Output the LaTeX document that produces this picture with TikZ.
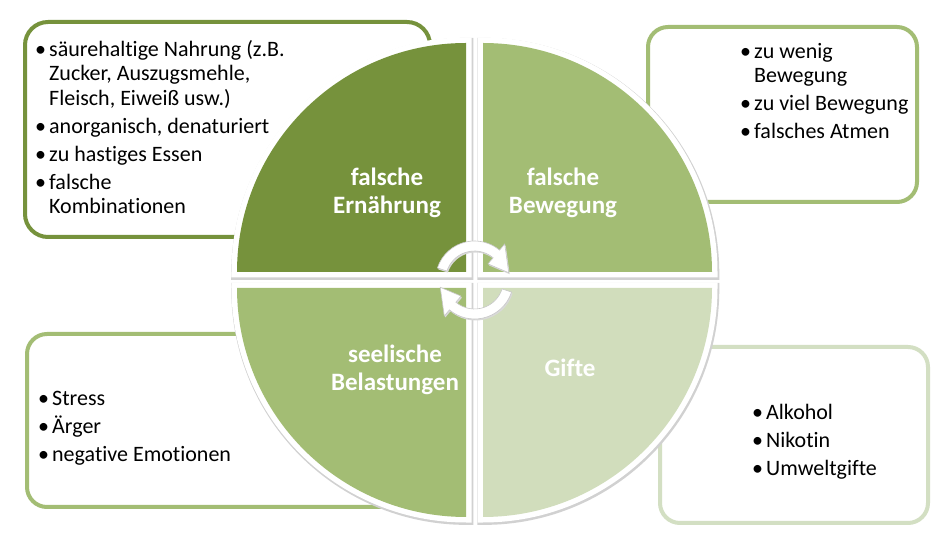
\documentclass[tikz,border=0pt]{standalone}
\usepackage{fontspec}
\setmainfont{Carlito}[Ligatures=NoCommon]
\definecolor{darkolive}{HTML}{76923C}
\definecolor{midgreen}{HTML}{A3BD74}
\definecolor{lightgreen}{HTML}{D1DDBC}
\definecolor{lightborder}{HTML}{D3DFC3}
\newcommand\bul{\rule{0pt}{17pt}\makebox[14pt][l]{•}}
\newcommand\ind{\rule{0pt}{17pt}\hspace*{14pt}}
\newcommand\lstrut{\rule{0pt}{18pt}}
\tikzset{
  infobox/.style={fill=white, line width=4pt, rounded corners=23pt},
  listtext/.style={anchor=north west, inner sep=0pt, align=left, font=\fontsize{22}{24.5}\selectfont},
  quadlabel/.style={anchor=north, inner sep=0pt, align=center, text=white, font=\bfseries\fontsize{25}{28}\selectfont},
  quadshadow/.style={draw=black!18, line width=13pt, line join=miter},
  quadbase/.style={draw=white, fill=white, line width=11pt, line join=miter},
  qTL/.style={insert path={(466,263) -- (237,263) arc[start angle=180, end angle=90, radius=229pt] -- cycle}},
  qTR/.style={insert path={(483,263) -- (483,492) arc[start angle=90, end angle=0, radius=229pt] -- cycle}},
  qBL/.style={insert path={(466,247) -- (466,18) arc[start angle=270, end angle=180, radius=229pt] -- cycle}},
  qBR/.style={insert path={(483,247) -- (712,247) arc[start angle=0, end angle=-90, radius=229pt] -- cycle}},
  cyclearrow/.style={insert path={(162:39pt) arc[start angle=162, end angle=50, radius=39pt] -- (50:47pt) -- (12:35pt) -- (50:21pt) -- (50:29pt) arc[start angle=50, end angle=162, radius=29pt] -- cycle}},
}
\begin{document}
\begin{tikzpicture}[x=1pt, y=1pt]
\useasboundingbox (0,0) rectangle (943,535);
\fill[white] (0,0) rectangle (943,535);

% boxes
\draw[infobox, draw=darkolive] (25,298) rectangle (430,513);
\draw[infobox, draw=midgreen, rounded corners=20pt] (648,333) rectangle (917,508);
\draw[infobox, draw=midgreen, rounded corners=20pt] (27,28) rectangle (400,201);
\draw[infobox, draw=lightborder, rounded corners=20pt] (660,12) rectangle (928,188);

% quadrants
\path[quadshadow, shift={(0.8,-1.4)}, qTL];
\path[quadshadow, shift={(0.8,-1.4)}, qTR];
\path[quadshadow, shift={(0.8,-1.4)}, qBL];
\path[quadshadow, shift={(0.8,-1.4)}, qBR];
\path[quadbase, qTL];
\path[quadbase, qTR];
\path[quadbase, qBL];
\path[quadbase, qBR];
\path[fill=darkolive, qTL];
\path[fill=midgreen, qTR];
\path[fill=midgreen, qBL];
\path[fill=lightgreen, qBR];

% list texts
\node[listtext] (tltext) at (35,496) {\bul säurehaltige Nahrung (z.B.\\\ind Zucker, Auszugsmehle,\\\ind Fleisch, Eiweiß usw.)\\[3.5pt]\bul anorganisch, denaturiert\\[3.5pt]\bul zu hastiges Essen\\[3.5pt]\bul falsche\\\ind Kombinationen};
\node[listtext] (trtext) at (740,494) {\bul zu wenig\\\ind Bewegung\\[3.5pt]\bul zu viel Bewegung\\[3.5pt]\bul falsches Atmen};
\node[listtext] (bltext) at (38,147) {\bul Stress\\[3.5pt]\bul Ärger\\[3.5pt]\bul negative Emotionen};
\node[listtext] (brtext) at (752,133) {\bul Alkohol\\[3.5pt]\bul Nikotin\\[3.5pt]\bul Umweltgifte};

% quadrant labels
\node[quadlabel] (ltl) at (387,368) {\lstrut falsche\\\lstrut Ernährung};
\node[quadlabel] (ltr) at (563,368) {\lstrut falsche\\\lstrut Bewegung};
\node[quadlabel] (lbl) at (395,191) {\lstrut seelische\\\lstrut Belastungen};
\node[quadlabel] (lbr) at (570,177) {\lstrut Gifte};

% cycle arrows
\begin{scope}[shift={(474.5,255)}]
  \path[fill=black!15, shift={(1,-1.5)}, cyclearrow];
  \path[fill=white, draw=black!22, line width=0.6pt, cyclearrow];
  \begin{scope}[rotate=180]
    \path[fill=black!15, shift={(-1,1.5)}, cyclearrow];
    \path[fill=white, draw=black!22, line width=0.6pt, cyclearrow];
  \end{scope}
\end{scope}
\end{tikzpicture}
\end{document}
